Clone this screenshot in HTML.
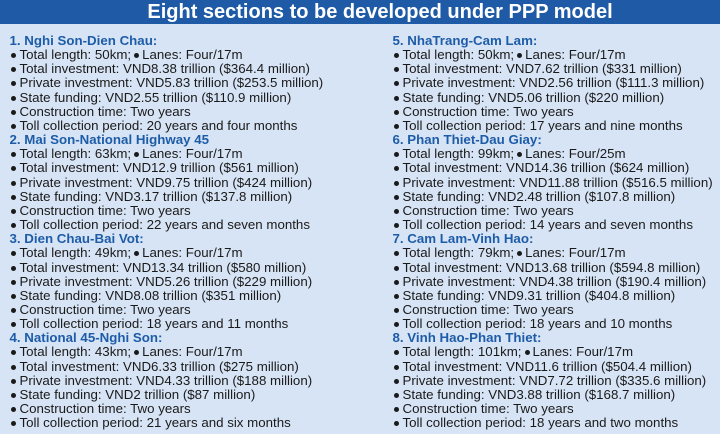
<!DOCTYPE html>
<html>
<head>
<meta charset="utf-8">
<style>
  html, body { margin:0; padding:0; }
  body {
    width:720px; height:434px; overflow:hidden; position:relative;
    background:#d7e4f5;
    font-family:"Liberation Sans", Arial, sans-serif;
  }
  .title {
    position:absolute; left:20px; top:0; width:720px; height:24px;
    color:#fff;
    font-weight:bold; font-size:20px; line-height:24px;
    text-align:center;
  }
  .bar { position:absolute; left:0; top:0; width:720px; height:24px; background:#1e5aa6; }
  .col {
    position:absolute; top:34px;
    font-size:13.3px; line-height:14.15px; color:#1a1a1a;
    white-space:nowrap;
  }
  .c1 { left:9.5px; }
  .c2 { left:392.5px; }
  .h { color:#1d5ca8; font-weight:bold; }
  .l { padding-left:10px; position:relative; }
  .l::before {
    content:""; position:absolute; left:1px; top:5px;
    width:5px; height:5px; border-radius:50%; background:#1a1a1a;
  }
  .d {
    display:inline-block; width:5px; height:5px; border-radius:50%;
    background:#1a1a1a; margin:0 3px 0 3px; vertical-align:1px;
  }
</style>
</head>
<body>
<div class="bar"></div>
<div class="title">Eight sections to be developed under PPP model</div>

<div class="col c1">
  <div class="h">1. Nghi Son-Dien Chau:</div>
  <div class="l">Total length: 50km;<span class="d"></span>Lanes: Four/17m</div>
  <div class="l">Total investment: VND8.38 trillion ($364.4 million)</div>
  <div class="l">Private investment: VND5.83 trillion ($253.5 million)</div>
  <div class="l">State funding: VND2.55 trillion ($110.9 million)</div>
  <div class="l">Construction time: Two years</div>
  <div class="l">Toll collection period: 20 years and four months</div>
  <div class="h">2. Mai Son-National Highway 45</div>
  <div class="l">Total length: 63km;<span class="d"></span>Lanes: Four/17m</div>
  <div class="l">Total investment: VND12.9 trillion ($561 million)</div>
  <div class="l">Private investment: VND9.75 trillion ($424 million)</div>
  <div class="l">State funding: VND3.17 trillion ($137.8 million)</div>
  <div class="l">Construction time: Two years</div>
  <div class="l">Toll collection period: 22 years and seven months</div>
  <div class="h">3. Dien Chau-Bai Vot:</div>
  <div class="l">Total length: 49km;<span class="d"></span>Lanes: Four/17m</div>
  <div class="l">Total investment: VND13.34 trillion ($580 million)</div>
  <div class="l">Private investment: VND5.26 trillion ($229 million)</div>
  <div class="l">State funding: VND8.08 trillion ($351 million)</div>
  <div class="l">Construction time: Two years</div>
  <div class="l">Toll collection period: 18 years and 11 months</div>
  <div class="h">4. National 45-Nghi Son:</div>
  <div class="l">Total length: 43km;<span class="d"></span>Lanes: Four/17m</div>
  <div class="l">Total investment: VND6.33 trillion ($275 million)</div>
  <div class="l">Private investment: VND4.33 trillion ($188 million)</div>
  <div class="l">State funding: VND2 trillion ($87 million)</div>
  <div class="l">Construction time: Two years</div>
  <div class="l">Toll collection period: 21 years and six months</div>
</div>

<div class="col c2">
  <div class="h">5. NhaTrang-Cam Lam:</div>
  <div class="l">Total length: 50km;<span class="d"></span>Lanes: Four/17m</div>
  <div class="l">Total investment: VND7.62 trillion ($331 million)</div>
  <div class="l">Private investment: VND2.56 trillion ($111.3 million)</div>
  <div class="l">State funding: VND5.06 trillion ($220 million)</div>
  <div class="l">Construction time: Two years</div>
  <div class="l">Toll collection period: 17 years and nine months</div>
  <div class="h">6. Phan Thiet-Dau Giay:</div>
  <div class="l">Total length: 99km;<span class="d"></span>Lanes: Four/25m</div>
  <div class="l">Total investment: VND14.36 trillion ($624 million)</div>
  <div class="l">Private investment: VND11.88 trillion ($516.5 million)</div>
  <div class="l">State funding: VND2.48 trillion ($107.8 million)</div>
  <div class="l">Construction time: Two years</div>
  <div class="l">Toll collection period: 14 years and seven months</div>
  <div class="h">7. Cam Lam-Vinh Hao:</div>
  <div class="l">Total length: 79km;<span class="d"></span>Lanes: Four/17m</div>
  <div class="l">Total investment: VND13.68 trillion ($594.8 million)</div>
  <div class="l">Private investment: VND4.38 trillion ($190.4 million)</div>
  <div class="l">State funding: VND9.31 trillion ($404.8 million)</div>
  <div class="l">Construction time: Two years</div>
  <div class="l">Toll collection period: 18 years and 10 months</div>
  <div class="h">8. Vinh Hao-Phan Thiet:</div>
  <div class="l">Total length: 101km;<span class="d"></span>Lanes: Four/17m</div>
  <div class="l">Total investment: VND11.6 trillion ($504.4 million)</div>
  <div class="l">Private investment: VND7.72 trillion ($335.6 million)</div>
  <div class="l">State funding: VND3.88 trillion ($168.7 million)</div>
  <div class="l">Construction time: Two years</div>
  <div class="l">Toll collection period: 18 years and two months</div>
</div>
</body>
</html>
